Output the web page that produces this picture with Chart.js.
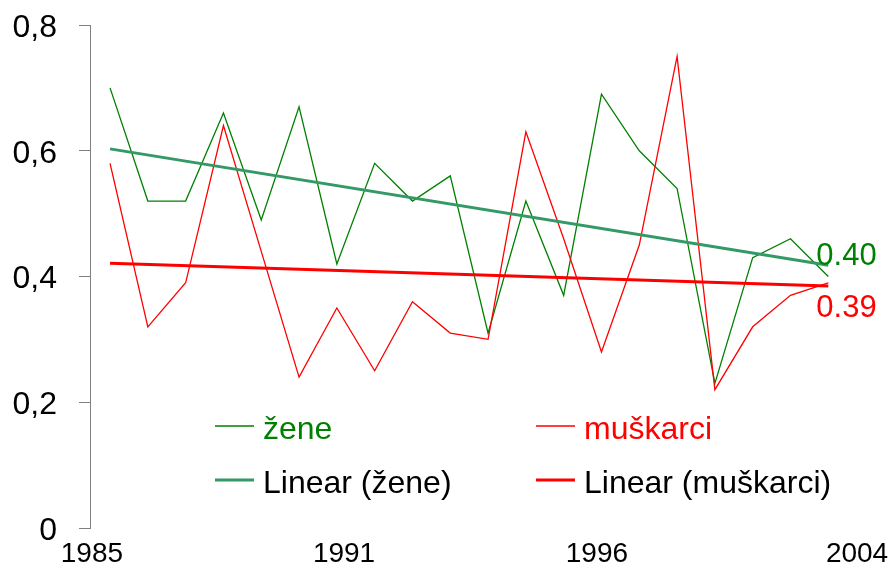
<!doctype html>
<html lang="hr">
  <head>
    <meta charset="utf-8">
    <title>žene / muškarci</title>
    <style>
      * {
        margin: 0;
        padding: 0;
      }
      body {
        background: #fff;
      }
      .chartBox {
        width: 893px;
        height: 567px;
      }
    </style>
  </head>
  <body>
    <div class="chartBox">
      <canvas id="myChart"></canvas>
    </div>
    <script src="https://cdn.jsdelivr.net/npm/chart.js/dist/chart.umd.min.js"></script>
    <script>
    // values, one per year
    const zene = [0.70, 0.52, 0.52, 0.66, 0.49, 0.67, 0.42, 0.58, 0.52, 0.56, 0.31, 0.52, 0.37, 0.69, 0.60, 0.54, 0.23, 0.43, 0.46, 0.40]
    const muskarci = [0.58, 0.32, 0.39, 0.64, 0.44, 0.24, 0.35, 0.25, 0.36, 0.31, 0.30, 0.63, 0.46, 0.28, 0.45, 0.75, 0.22, 0.32, 0.37, 0.39]
    // linear trend, value at first and last point
    const trendZene = [0.603, 0.418]
    const trendMuskarci = [0.421, 0.385]

    const xTickLabels = ['1985', '1991', '1996', '2004']
    const yTicks = [0, 0.2, 0.4, 0.6, 0.8]

    // where the year labels sit along the axis (in point index units)
    const xTickPos = [-0.48, 6.19, 12.88, 19.76]

    const FONT = "'Liberation Sans', Arial, sans-serif"
    const GREEN = '#008000'
    const GREEN_TREND = '#339966'
    const RED = '#ff0000'

    const toPoints = arr => arr.map((v, i) => ({x: i, y: v}))
    const trendPoints = arr => [{x: 0, y: arr[0]}, {x: zene.length - 1, y: arr[1]}]

    const data = {
      datasets: [
        {label: 'žene', data: toPoints(zene), borderColor: GREEN, borderWidth: 1.3, order: 4},
        {label: 'muškarci', data: toPoints(muskarci), borderColor: RED, borderWidth: 1.3, order: 3},
        {label: 'Linear (žene)', data: trendPoints(trendZene), borderColor: GREEN_TREND, borderWidth: 3, order: 2},
        {label: 'Linear (muškarci)', data: trendPoints(trendMuskarci), borderColor: RED, borderWidth: 3, order: 1},
      ]
    }

    // legend inside the plot + value labels at the right end
    const annotations = {
      id: 'annotations',
      afterDraw(chart) {
        const {ctx, scales: {x, y}} = chart
        const ds = chart.data.datasets
        ctx.save()

        // legend: two columns, two rows
        const cols = [215, 536]
        const rows = [426, 480]
        const items = [
          {d: ds[0], col: 0, row: 0, text: GREEN},
          {d: ds[1], col: 1, row: 0, text: RED},
          {d: ds[2], col: 0, row: 1, text: '#000'},
          {d: ds[3], col: 1, row: 1, text: '#000'},
        ]
        ctx.font = '32px ' + FONT
        ctx.textBaseline = 'alphabetic'
        ctx.textAlign = 'left'
        items.forEach(it => {
          const lx = cols[it.col]
          const ly = rows[it.row]
          ctx.strokeStyle = it.d.borderColor
          ctx.lineWidth = it.d.borderWidth
          ctx.beginPath()
          ctx.moveTo(lx, ly)
          ctx.lineTo(lx + 39, ly)
          ctx.stroke()
          ctx.fillStyle = it.text
          ctx.fillText(it.d.label, lx + 48, ly + 13)
        })

        // last values
        const last = zene.length - 1
        const px = x.getPixelForValue(last)
        ctx.font = '31px ' + FONT
        ctx.fillStyle = GREEN
        ctx.fillText(zene[last].toFixed(2), px - 12, y.getPixelForValue(zene[last]) - 12)
        ctx.fillStyle = RED
        ctx.fillText(muskarci[last].toFixed(2), px - 12, y.getPixelForValue(muskarci[last]) + 34)

        ctx.restore()
      }
    }

    const config = {
      type: 'line',
      data,
      options: {
        responsive: true,
        maintainAspectRatio: false,
        animation: false,
        layout: {
          padding: {top: 25, right: 8, bottom: 0, left: 0}
        },
        elements: {
          point: {radius: 0},
          line: {tension: 0, borderCapStyle: 'butt', borderJoinStyle: 'miter'}
        },
        plugins: {
          legend: {display: false},
          tooltip: {enabled: false}
        },
        scales: {
          x: {
            type: 'linear',
            min: -0.53,
            max: 20.5,
            afterBuildTicks: s => { s.ticks = xTickPos.map(v => ({value: v})) },
            afterFit: s => {
              s.height = 39
              s.paddingLeft = 0
              s.paddingRight = 0
            },
            ticks: {
              autoSkip: false,
              maxRotation: 0,
              padding: 1,
              color: '#000',
              font: {family: FONT, size: 28},
              callback: (v, i) => xTickLabels[i]
            },
            grid: {display: false},
            border: {display: false}
          },
          y: {
            min: 0,
            max: 0.8,
            afterBuildTicks: s => { s.ticks = yTicks.map(v => ({value: v})) },
            afterFit: s => {
              s.width = 90
              s.paddingTop = 0
              s.paddingBottom = 0
            },
            ticks: {
              padding: 22,
              labelOffset: 3,
              color: '#000',
              font: {family: FONT, size: 32},
              callback: v => String(v).replace('.', ',')
            },
            grid: {drawOnChartArea: false, tickLength: 11, color: '#808080', lineWidth: 1},
            border: {color: '#808080', width: 1}
          }
        }
      },
      plugins: [annotations]
    }

    const myChart = new Chart(document.getElementById('myChart'), config)
    </script>
  </body>
</html>
